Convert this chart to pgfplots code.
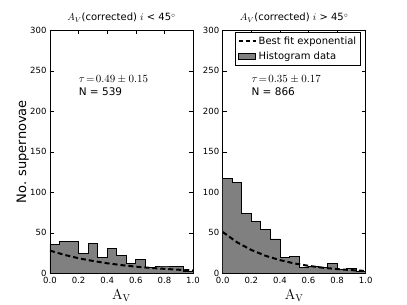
\documentclass[border=0pt]{standalone}
\usepackage{pgfplots}
\pgfplotsset{compat=1.18}
\usepackage[no-math]{fontspec}
\setmainfont{DejaVu Sans}
\definecolor{histgray}{RGB}{128,128,128}
\pgfplotsset{
  myax/.style={
    scale only axis, width=143pt, height=243pt,
    xmin=0, xmax=1, ymin=0, ymax=300,
    xtick={0,0.2,0.4,0.6,0.8,1.0},
    ytick={0,50,100,150,200,250,300},
    tick align=inside, major tick length=4pt,
    tick label style={font=\fontsize{8.5}{9}\selectfont},
    xticklabel style={/pgf/number format/.cd, fixed, fixed zerofill, precision=1},
    /pgf/number format/assume math mode=true,
    axis line style={line width=0.7pt},
    every tick/.style={black, line width=0.5pt},
    title style={font=\fontsize{10}{11}\selectfont, at={(0.5,1)}, anchor=south, yshift=-1.5pt},
    xlabel={$\mathrm{A_V}$},
    xlabel style={font=\fontsize{14}{15}\selectfont, at={(axis description cs:0.5,-0.09)}, anchor=center},
  }
}
\begin{document}
\begin{tikzpicture}
\useasboundingbox (0,0) rectangle (407pt,305pt);
\begin{axis}[myax, at={(50pt,31.7pt)}, anchor=south west,
  title={$A_V$(corrected) $i$ < 45$^\circ$},
  ylabel={No. supernovae},
  ylabel style={font=\fontsize{13}{14}\selectfont, at={(axis description cs:-0.19,0.5)}, anchor=center},
]
\addplot[const plot mark left, fill=histgray, draw=black, line width=0.7pt] coordinates {
(0,36) (0.0667,39) (0.1333,39) (0.2,25) (0.2667,37) (0.3333,20) (0.4,31) (0.4667,22)
(0.5333,12) (0.6,17.5) (0.6667,7.5) (0.7333,9) (0.8,9) (0.8667,8) (0.9333,3) (1,3)} \closedcycle;
\addplot[black, line width=2pt, dash pattern=on 5pt off 3pt] coordinates {
(0,28) (0.1,22.8) (0.2,18.6) (0.3,15.2) (0.4,12.4) (0.5,10.1) (0.6,8.2) (0.7,6.7) (0.8,5.5) (0.9,4.4) (1.0,3.6)};
\node[anchor=base west, font=\fontsize{10.5}{11}\selectfont, inner sep=0pt] at (axis cs:0.2,236) {$\tau\!=\!0.49\pm0.15$};
\node[anchor=base west, font=\fontsize{10.5}{11}\selectfont, inner sep=0pt] at (axis cs:0.2,220) {N = 539};
\end{axis}
\begin{axis}[myax, at={(222.7pt,31.7pt)}, anchor=south west,
  title={$A_V$(corrected) $i$ > 45$^\circ$},
  legend style={at={(0.967,0.993)}, anchor=north east, draw=black, line width=0.6pt,
    font=\fontsize{10}{11}\selectfont, row sep=2pt, inner sep=2.5pt},
  legend cell align=left,
]
\addlegendimage{black, line width=2pt, dash pattern=on 4pt off 3pt}
\addlegendentry{Best fit exponential}
\addlegendimage{area legend, fill=histgray, draw=black, line width=0.6pt}
\addlegendentry{Histogram data}
\addplot[const plot mark left, fill=histgray, draw=black, line width=0.7pt, forget plot] coordinates {
(0,117.5) (0.0667,112.5) (0.1333,74) (0.2,64) (0.2667,54) (0.3333,42.5) (0.4,19.5) (0.4667,21)
(0.5333,7.5) (0.6,8.5) (0.6667,7) (0.7333,12.5) (0.8,5) (0.8667,6.5) (0.9333,2.5) (1,2.5)} \closedcycle;
\addplot[black, line width=2pt, dash pattern=on 5pt off 3pt, forget plot] coordinates {
(0,51) (0.1,38.3) (0.2,28.8) (0.3,21.6) (0.4,16.3) (0.5,12.2) (0.6,9.2) (0.7,6.9) (0.8,5.2) (0.9,3.9) (1.0,2.9)};
\node[anchor=base west, font=\fontsize{10.5}{11}\selectfont, inner sep=0pt] at (axis cs:0.2,236) {$\tau\!=\!0.35\pm0.17$};
\node[anchor=base west, font=\fontsize{10.5}{11}\selectfont, inner sep=0pt] at (axis cs:0.2,220) {N = 866};
\end{axis}
\end{tikzpicture}
\end{document}
